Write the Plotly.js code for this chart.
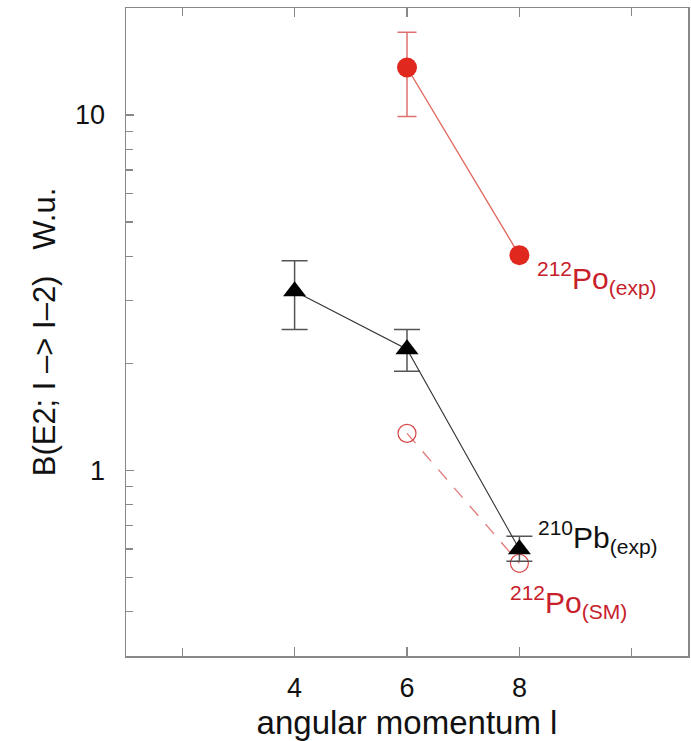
<!DOCTYPE html>
<html>
<head>
<meta charset="utf-8">
<script src="https://cdn.plot.ly/plotly-3.0.1.min.js"></script>
<style>html,body{margin:0;padding:0;background:#fff;}#chart{width:691px;height:741px;}</style>
</head>
<body>
<div id="chart"></div>
<script>
// angular momentum I
var spinPb = [4, 6, 8];
var pb210Exp = [3.19, 2.19, 0.599];
var pb210ErrPlus = [0.70, 0.30, 0.053];
var pb210ErrMinus = [0.70, 0.29, 0.045];

var spinPo = [6, 8];
var po212Exp = [13.6, 4.03];
var po212ErrPlus = [3.5, 0];
var po212ErrMinus = [3.7, 0];

var po212SM = [1.27, 0.547];

var xTickVals = [4, 6, 8];
var xTickText = ['4', '6', '8'];
var xMinorVals = [2, 10];
var yTickVals = [1, 10];
var yTickText = ['1', '10'];
var yMinorVals = [0.4, 0.5, 0.6, 0.7, 0.8, 0.9, 2, 3, 4, 5, 6, 7, 8, 9];

var font = 'Liberation Sans, Arial, Helvetica, sans-serif';
var red = '#e0281e';

var traces = [
  {
    x: spinPo, y: po212SM, type: 'scatter', mode: 'lines+markers',
    line: {color: '#e07878', width: 1.3, dash: '13px,11px'},
    marker: {symbol: 'circle-open', size: 18, color: '#d84848', line: {width: 1.2}},
    showlegend: false
  },
  {
    x: spinPb, y: pb210Exp, type: 'scatter', mode: 'lines+markers',
    line: {color: '#333', width: 1.1},
    marker: {symbol: 'triangle-up', size: 20, color: '#000'},
    error_y: {type: 'data', symmetric: false, array: pb210ErrPlus, arrayminus: pb210ErrMinus,
              color: '#555', thickness: 1.5, width: 13},
    showlegend: false
  },
  {
    x: spinPo, y: po212Exp, type: 'scatter', mode: 'lines+markers',
    line: {color: '#e06058', width: 1.3},
    marker: {symbol: 'circle', size: 20, color: red},
    error_y: {type: 'data', symmetric: false, array: po212ErrPlus, arrayminus: po212ErrMinus,
              color: '#e07070', thickness: 1.5, width: 9.5},
    showlegend: false
  }
];

var layout = {
  width: 691, height: 741,
  margin: {l: 126, r: 3, t: 8, b: 85},
  paper_bgcolor: '#fff', plot_bgcolor: '#fff',
  font: {family: font, color: '#111'},
  xaxis: {
    range: [1, 11], showgrid: false, zeroline: false,
    showline: true, linecolor: '#888', linewidth: 1.5, mirror: 'ticks',
    ticks: 'inside', ticklen: 9, tickcolor: '#888', tickwidth: 1.3,
    tickmode: 'array', tickvals: xTickVals, ticktext: xTickText,
    minor: {tickmode: 'array', tickvals: xMinorVals, ticks: 'inside', ticklen: 8, tickcolor: '#888', tickwidth: 1.3},
    tickfont: {size: 27, family: font, color: '#111'},
    ticklabelstandoff: 7,
    title: {text: 'angular momentum l', font: {size: 33, family: font, color: '#111'}, standoff: 9}
  },
  yaxis: {
    type: 'log', range: [Math.log10(0.3), Math.log10(20)],
    showgrid: false, zeroline: false,
    showline: true, linecolor: '#888', linewidth: 1.5, mirror: true,
    ticks: 'inside', ticklen: 8, tickcolor: '#888', tickwidth: 1.3,
    tickmode: 'array', tickvals: yTickVals, ticktext: yTickText,
    minor: {tickmode: 'array', tickvals: yMinorVals, ticks: 'inside', ticklen: 7, tickcolor: '#888', tickwidth: 1.3},
    tickfont: {size: 27, family: font, color: '#111'},
    ticklabelstandoff: 14,
    title: {text: 'B(E2; I –> I–2)&nbsp;&nbsp;&nbsp;W.u.', font: {size: 31, family: font, color: '#111'}, standoff: 10}
  },
  annotations: [
    {x: 8.28, y: Math.log10(3.47), xref: 'x', yref: 'y', xanchor: 'left', yanchor: 'middle', showarrow: false,
     text: '<sup>212</sup>Po<sub>(exp)</sub>', font: {size: 30, family: font, color: '#c8202a'}},
    {x: 8.30, y: Math.log10(0.647), xref: 'x', yref: 'y', xanchor: 'left', yanchor: 'middle', showarrow: false,
     text: '<sup>210</sup>Pb<sub>(exp)</sub>', font: {size: 30, family: font, color: '#111'}},
    {x: 7.80, y: Math.log10(0.425), xref: 'x', yref: 'y', xanchor: 'left', yanchor: 'middle', showarrow: false,
     text: '<sup>212</sup>Po<sub>(SM)</sub>', font: {size: 30, family: font, color: '#c8202a'}}
  ]
};

Plotly.newPlot('chart', traces, layout, {displayModeBar: false, staticPlot: true});
</script>
</body>
</html>
